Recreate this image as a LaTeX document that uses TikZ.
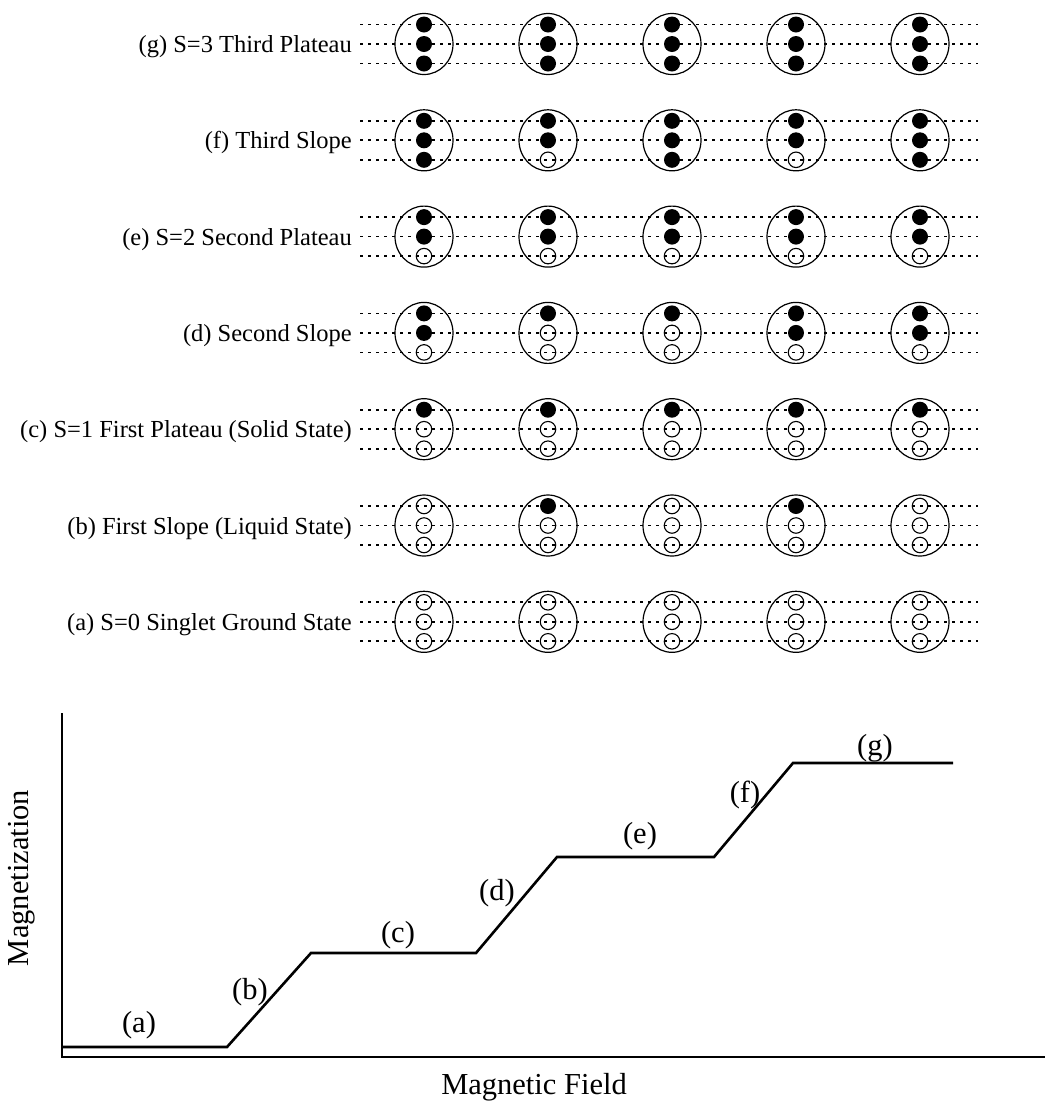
\documentclass[tikz,border=0pt]{standalone}
\usepackage{fontspec}
\setmainfont{Liberation Serif}
\usetikzlibrary{shapes.geometric}
\tikzset{
  rowlab/.style={anchor=base east, font=\fontsize{24.5}{28}\selectfont, inner sep=0pt},
  graphlab/.style={font=\fontsize{30.5}{34}\selectfont, inner sep=0pt},
  level/.style={dash pattern=on 3pt off 5pt, line width=1.7pt},
  site/.style={draw, ellipse, minimum width=58pt, minimum height=61pt, inner sep=0pt, line width=1.2pt},
  spinup/.style={circle, fill=black, minimum size=16pt, inner sep=0pt},
  spindown/.style={circle, draw, minimum size=15.5pt, inner sep=0pt, line width=1.1pt},
  axis/.style={line width=2.4pt},
  curve/.style={line width=2.6pt, line join=miter}
}
\newcommand\spinrow[7]{%
  \pgfmathsetmacro\ym{44+96.3*#1}%
  \foreach \k in {-1,0,1}{%
    \coordinate (L#1s\k) at (360,{\ym+19.5*\k});
    \coordinate (R#1s\k) at (978,{\ym+19.5*\k});
    \draw[level] (L#1s\k) -- (R#1s\k);
  }%
  \node[rowlab] (lab#1) at (352,{\ym+8.5}) {#2};
  \foreach \n [count=\c from 0] in {#3,#4,#5,#6,#7}{%
    \pgfmathsetmacro\xc{424+124*\c}%
    \node[site] (s#1c\c) at (\xc,\ym) {};
    \foreach \p in {1,2,3}{%
      \ifnum\p>\n
        \node[spindown] (sp#1c\c p\p) at (\xc,{\ym+19.5*(\p-2)}) {};
      \else
        \node[spinup] (sp#1c\c p\p) at (\xc,{\ym+19.5*(\p-2)}) {};
      \fi
    }%
  }%
}
\begin{document}
\begin{tikzpicture}[x=1pt,y=-1pt]
\useasboundingbox (0,0) rectangle (1049,1104);
\spinrow{0}{(g) S=3 Third Plateau}{3}{3}{3}{3}{3}
\spinrow{1}{(f) Third Slope}{3}{2}{3}{2}{3}
\spinrow{2}{(e) S=2 Second Plateau}{2}{2}{2}{2}{2}
\spinrow{3}{(d) Second Slope}{2}{1}{1}{2}{2}
\spinrow{4}{(c) S=1 First Plateau (Solid State)}{1}{1}{1}{1}{1}
\spinrow{5}{(b) First Slope (Liquid State)}{0}{1}{0}{1}{0}
\spinrow{6}{(a) S=0 Singlet Ground State}{0}{0}{0}{0}{0}
% graph
\coordinate (ytop) at (62,713);
\coordinate (orig) at (62,1057);
\coordinate (xend) at (1045,1057);
\draw[axis] (ytop) -- (orig) -- (xend);
\coordinate (p0) at (62,1047);
\coordinate (p1) at (227,1047);
\coordinate (p2) at (311,953);
\coordinate (p3) at (476,953);
\coordinate (p4) at (557,857);
\coordinate (p5) at (714,857);
\coordinate (p6) at (793,763);
\coordinate (p7) at (953,763);
\draw[curve] (p0) -- (p1) -- (p2) -- (p3) -- (p4) -- (p5) -- (p6) -- (p7);
\node[graphlab] (ga) at (139,1025) {(a)};
\node[graphlab] (gb) at (250,992) {(b)};
\node[graphlab] (gc) at (398,935) {(c)};
\node[graphlab] (gd) at (497,893) {(d)};
\node[graphlab] (ge) at (640,836) {(e)};
\node[graphlab] (gf) at (745,795) {(f)};
\node[graphlab] (gg) at (875,748) {(g)};
\node[graphlab, rotate=90] (ylab) at (22,878) {Magnetization};
\node[graphlab, anchor=base] (xlab) at (534,1094) {Magnetic Field};
\end{tikzpicture}
\end{document}
